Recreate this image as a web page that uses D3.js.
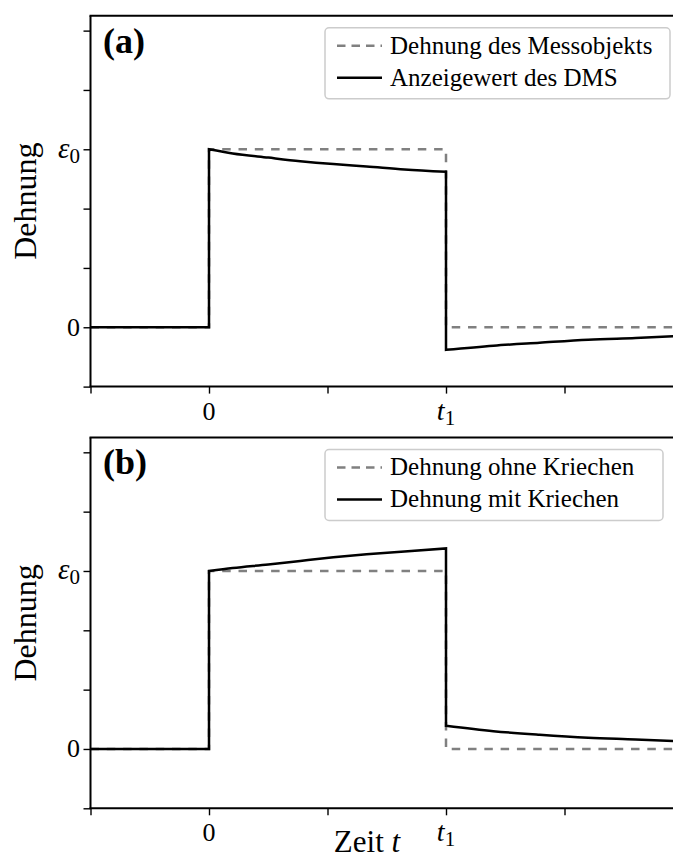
<!DOCTYPE html>
<html><head><meta charset="utf-8">
<script src="https://cdn.jsdelivr.net/npm/d3@7"></script>
<style>
body{margin:0;background:#fff}
svg{display:block}
text{font-family:"Liberation Serif","DejaVu Serif",serif;fill:#000}
</style>
</head><body>
<svg id="chart" width="673" height="857"></svg>
<script>
// Nominal strain level and switch-off time (axis units)
const eps0 = 3;
const t1 = 2;
const xTicks = [-1, 0, 1, 2, 3];
const yTicks = [-1, 0, 1, 2, 3, 4, 5];
const xTickLabels = {0: "0", 2: "t1"};
const yTickLabels = {0: "0", 3: "eps0"};

// Ideal step: strain of the object (panel a) / strain without creep (panel b)
const stepT = [-1, 0, 0, 2, 2, 3.95];
const stepV = [0, 0, 3, 3, 0, 0];

// Panel (a): gauge reading (relaxes while loaded, undershoots after unloading)
const gaugeT = [-1, 0, 0, 0.2, 0.5, 0.77, 1.05, 1.33, 1.65, 2, 2, 2.4, 2.79, 3.2, 3.6, 3.95];
const gaugeV = [0, 0, 3.0, 2.93, 2.86, 2.80, 2.75, 2.71, 2.66, 2.62, -0.38, -0.31, -0.26, -0.21, -0.18, -0.15];

// Panel (b): strain with creep
const creepT = [-1, 0, 0, 0.2, 0.5, 0.77, 1.05, 1.33, 1.65, 2, 2, 2.4, 2.79, 3.2, 3.6, 3.95];
const creepV = [0, 0, 3.0, 3.05, 3.11, 3.17, 3.23, 3.28, 3.33, 3.38, 0.39, 0.30, 0.24, 0.19, 0.16, 0.13];

const legendA = ["Dehnung des Messobjekts", "Anzeigewert des DMS"];
const legendB = ["Dehnung ohne Kriechen", "Dehnung mit Kriechen"];

const svg = d3.select("#chart");
const unitX = 118.5, unitY = 59.33;
const left = 90.5;
const x = d3.scaleLinear().domain([-1, 4.5]).range([left, left + 5.5 * unitX]);

function zip(ts, vs) { return ts.map((t, i) => [t, vs[i]]); }

// Smooth path through the points, kept straight at the vertical jumps
function jumpPath(pts, y) {
  const pieces = [];
  let cur = [pts[0]];
  for (let i = 1; i < pts.length; i++) {
    if (pts[i][0] === pts[i - 1][0]) { pieces.push(cur); cur = [pts[i]]; }
    else cur.push(pts[i]);
  }
  pieces.push(cur);
  const gen = d3.line().x(d => x(d[0])).y(d => y(d[1])).curve(d3.curveMonotoneX);
  return pieces.map((p, i) => {
    const s = gen(p.length > 1 ? p : [p[0], p[0]]);
    return i === 0 ? s : "L" + s.slice(1);
  }).join("");
}

function panel(bottom, tag, legendLabels, dashedPts, solidPts, legendW, showXLabel) {
  const y = d3.scaleLinear().domain([-1, 5.25]).range([bottom, bottom - 6.25 * unitY]);
  const g = svg.append("g");
  const top = y(5.25), right = x(4.5);

  const line = d3.line().x(d => x(d[0])).y(d => y(d[1]));
  g.append("path").datum(dashedPts).attr("d", line)
    .attr("fill", "none").attr("stroke", "#808080").attr("stroke-width", 2.5)
    .attr("stroke-dasharray", "8.5,7.8");
  g.append("path").attr("d", jumpPath(solidPts, y))
    .attr("fill", "none").attr("stroke", "#000").attr("stroke-width", 2.5)
    .attr("stroke-linejoin", "miter");

  // axes
  const ax = g.append("g").attr("transform", `translate(0,${bottom})`)
    .call(d3.axisBottom(x).tickValues(xTicks).tickSize(7).tickPadding(4).tickFormat(() => ""));
  const ay = g.append("g").attr("transform", `translate(${left},0)`)
    .call(d3.axisLeft(y).tickValues(yTicks).tickSize(7).tickPadding(4).tickFormat(() => ""));
  [ax, ay].forEach(a => {
    a.select(".domain").remove();
    a.selectAll(".tick line").attr("stroke", "#000").attr("stroke-width", 1.4);
  });

  // spines
  g.append("line").attr("x1", left).attr("x2", left).attr("y1", top).attr("y2", bottom)
    .attr("stroke", "#000").attr("stroke-width", 2);
  g.append("line").attr("x1", left - 1).attr("x2", right).attr("y1", top).attr("y2", top)
    .attr("stroke", "#000").attr("stroke-width", 2);
  g.append("line").attr("x1", left - 1).attr("x2", right).attr("y1", bottom).attr("y2", bottom)
    .attr("stroke", "#000").attr("stroke-width", 2);

  // tick labels
  Object.keys(yTickLabels).forEach(k => {
    const v = +k;
    const t = g.append("text").attr("x", 80).attr("y", y(v) + 8.5)
      .attr("text-anchor", "end").style("font-size", "26px");
    if (yTickLabels[k] === "eps0") {
      t.append("tspan").text("ε").style("font-style", "italic").style("font-size", "29px");
      t.append("tspan").text("0").attr("dy", 5).style("font-size", "21px");
    } else t.text(yTickLabels[k]);
  });
  Object.keys(xTickLabels).forEach(k => {
    const v = +k;
    const t = g.append("text").attr("x", x(v)).attr("y", bottom + 33)
      .attr("text-anchor", "middle").style("font-size", "26px");
    if (xTickLabels[k] === "t1") {
      t.append("tspan").text("t").style("font-style", "italic").style("font-size", "28px");
      t.append("tspan").text("1").attr("dy", 5).style("font-size", "21px");
    } else t.text(xTickLabels[k]);
  });

  // y axis title
  g.append("text").attr("transform", `translate(36,${(top + bottom) / 2}) rotate(-90)`)
    .attr("text-anchor", "middle").style("font-size", "32px").text("Dehnung");

  // panel tag
  g.append("text").attr("x", 103).attr("y", top + 37).style("font-size", "36px")
    .style("font-weight", "bold").text(tag);

  // legend
  const lg = g.append("g").attr("transform", `translate(325,${top + 12})`);
  lg.append("rect").attr("x", 0).attr("y", 0).attr("width", legendW).attr("height", 71)
    .attr("rx", 4).attr("fill", "#fff").attr("stroke", "#cccccc").attr("stroke-width", 1.5);
  const styles = [{c: "#808080", d: "8.5,6"}, {c: "#000", d: null}];
  legendLabels.forEach((lab, i) => {
    const ry = 18 + i * 32;
    lg.append("line").attr("x1", 12).attr("x2", 57).attr("y1", ry).attr("y2", ry)
      .attr("stroke", styles[i].c).attr("stroke-width", 2.5)
      .attr("stroke-dasharray", styles[i].d);
    lg.append("text").attr("x", 65).attr("y", ry + 8).style("font-size", "25px").text(lab);
  });

  if (showXLabel) {
    const t = svg.append("text").attr("x", 367).attr("y", bottom + 44)
      .attr("text-anchor", "middle").style("font-size", "31px");
    t.append("tspan").text("Zeit ");
    t.append("tspan").text("t").style("font-style", "italic");
  }
}

panel(386.6, "(a)", legendA, zip(stepT, stepV), zip(gaugeT, gaugeV), 345, false);
panel(808.3, "(b)", legendB, zip(stepT, stepV), zip(creepT, creepV), 338, true);
</script>
</body></html>
